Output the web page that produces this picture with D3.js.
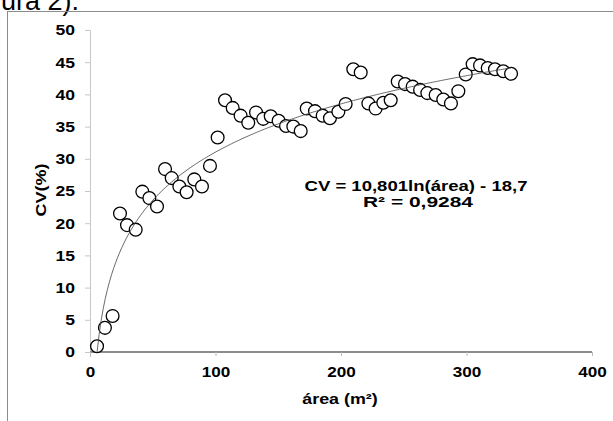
<!DOCTYPE html>
<meta charset="utf-8">
<style>
body { margin: 0; background: #fff; }
svg { display: block; }
.axis text { font: bold 15px "Liberation Sans", Arial, sans-serif; fill: #000; }
.lbl { font: bold 15px "Liberation Sans", Arial, sans-serif; fill: #000; }
</style>
<body>
<svg width="613" height="421"></svg>
<script src="https://cdn.jsdelivr.net/npm/d3@7"></script>
<script>

// area (m2) and CV (%)
var area = [5.6, 11.9, 18, 23.9, 29.5, 36.4, 41.7, 47.3, 53.4, 59.8, 65.1, 71.2, 77,
  83.1, 89.2, 95.6, 101.7, 107.6, 113.7, 120, 126.1, 132.3, 138, 144, 150.3, 156.2, 162, 167.9, 172.7, 179.3, 185.4,
  191.2, 197.9, 203.7, 209.8, 215.7, 221.8, 227.6, 233.7, 239.6,
  245.2, 251, 257.1, 263, 268.8, 275.4, 281.5, 287.6, 293.5, 299.4,
  304.9, 310.8, 316.9, 322.7, 329.3, 335.5];
var cv = [0.9, 3.75, 5.6, 21.5, 19.7, 19.0, 24.9, 23.9, 22.6, 28.4, 27.0, 25.7, 24.8,
  26.8, 25.7, 28.9, 33.3, 39.1, 37.9, 36.7, 35.6, 37.2, 36.2, 36.6, 35.9, 35.1, 35.0, 34.3, 37.8, 37.4, 36.7,
  36.3, 37.3, 38.5, 43.9, 43.4, 38.6, 37.8, 38.7, 39.1,
  42.0, 41.6, 41.2, 40.7, 40.2, 39.9, 39.2, 38.6, 40.5, 43.1,
  44.7, 44.5, 44.1, 43.9, 43.6, 43.2];

// logarithmic trend line shown in the chart: CV = a ln(area) + b
var trendA = 10.801, trendB = -18.7;
var xTicks = [0, 100, 200, 300, 400];
var yTicks = [0, 5, 10, 15, 20, 25, 30, 35, 40, 45, 50];

var svg = d3.select("svg");

// the original's text is a bit wider than Liberation Sans
function widen(sel, f) {
  sel.each(function() {
    var len = this.getComputedTextLength();
    d3.select(this).attr("textLength", len * f).attr("lengthAdjust", "spacingAndGlyphs");
  });
}

// cut off caption above the frame
svg.append("text")
    .attr("x", 79).attr("y", 10)
    .attr("text-anchor", "end")
    .style("font", "27px 'Liberation Sans', Arial, sans-serif")
    .text("Figura 2).");

// chart frame, running off the page on the right and bottom
svg.append("rect")
    .attr("x", 7.5).attr("y", 11.5)
    .attr("width", 700).attr("height", 500)
    .attr("fill", "none")
    .attr("stroke", "#8c8c8c");

var x = d3.scaleLinear().domain([0, 400]).range([90, 592]),
    y = d3.scaleLinear().domain([0, 50]).range([352, 30]);

var yAxis = svg.append("g")
    .attr("class", "axis")
    .attr("transform", "translate(90,0)")
    .call(d3.axisLeft(y).tickValues(yTicks).tickSize(5).tickPadding(10));
yAxis.select(".domain").attr("stroke", "#c8c8c8").attr("d", "M-5,30.5H0.5V357");
yAxis.selectAll(".tick line").attr("stroke", "#c8c8c8");
widen(yAxis.selectAll("text"), 1.17);

var xAxis = svg.append("g")
    .attr("class", "axis")
    .attr("transform", "translate(0,352)")
    .call(d3.axisBottom(x).tickValues(xTicks).tickSize(4).tickPadding(10.5));
xAxis.select(".domain").attr("stroke", "#8c8c8c").attr("stroke-width", 2).attr("d", "M90,0H592");
xAxis.selectAll(".tick line").attr("stroke", "#bdbdbd");
widen(xAxis.selectAll("text"), 1.14);

svg.append("text").attr("class", "lbl")
    .attr("x", 340).attr("y", 404)
    .attr("text-anchor", "middle")
    .text("área (m²)")
    .call(widen, 1.19);

svg.append("text").attr("class", "lbl")
    .attr("transform", "translate(46,190) rotate(-90)")
    .attr("text-anchor", "middle")
    .text("CV(%)")
    .call(widen, 1.2);

var pts = area.map(function(a, i) { return {a: a, c: cv[i]}; });

// trend line samples over the data range
var tr = d3.range(0, 201).map(function(i) {
  var a = area[0] + (area[area.length - 1] - area[0]) * i / 200;
  return {a: a, c: trendA * Math.log(a) + trendB};
});

svg.selectAll(".pt")
    .data(pts)
  .enter().append("circle")
    .attr("class", "pt")
    .attr("cx", function(d) { return x(d.a); })
    .attr("cy", function(d) { return y(d.c); })
    .attr("r", 6.4)
    .attr("fill", "#fff")
    .attr("stroke", "#000")
    .attr("stroke-width", 1.3);

svg.append("path")
    .datum(tr)
    .attr("fill", "none")
    .attr("stroke", "#444")
    .attr("stroke-width", 0.8)
    .attr("d", d3.line()
      .x(function(d) { return x(d.a); })
      .y(function(d) { return y(d.c); }));

svg.append("text").attr("class", "lbl")
    .attr("x", 416).attr("y", 191)
    .attr("text-anchor", "middle")
    .attr("textLength", 223).attr("lengthAdjust", "spacingAndGlyphs")
    .text("CV = 10,801ln(área) - 18,7");
svg.append("text").attr("class", "lbl")
    .attr("x", 418).attr("y", 207)
    .attr("text-anchor", "middle")
    .attr("textLength", 110).attr("lengthAdjust", "spacingAndGlyphs")
    .text("R² = 0,9284");

</script>
</body>
